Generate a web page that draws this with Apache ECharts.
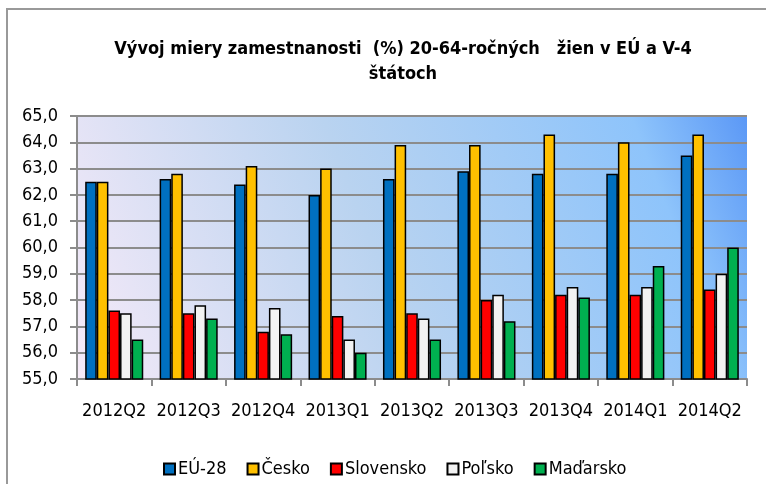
<!DOCTYPE html>
<html>
<head>
<meta charset="utf-8">
<script src="https://cdn.jsdelivr.net/npm/echarts@6/dist/echarts.min.js"></script>
<style>
  html, body { margin: 0; padding: 0; background: #fff; }
  #chart { width: 766px; height: 484px; }
</style>
</head>
<body>
<div id="chart"></div>
<script>
// kvartály a hodnoty (%)
const categories = ['2012Q2', '2012Q3', '2012Q4', '2013Q1', '2013Q2', '2013Q3', '2013Q4', '2014Q1', '2014Q2'];
const seriesNames = ['EÚ-28', 'Česko', 'Slovensko', 'Poľsko', 'Maďarsko'];
const eu28 = [62.5, 62.6, 62.4, 62.0, 62.6, 62.9, 62.8, 62.8, 63.5];
const cesko = [62.5, 62.8, 63.1, 63.0, 63.9, 63.9, 64.3, 64.0, 64.3];
const slovensko = [57.6, 57.5, 56.8, 57.4, 57.5, 58.0, 58.2, 58.2, 58.4];
const polsko = [57.5, 57.8, 57.7, 56.5, 57.3, 58.2, 58.5, 58.5, 59.0];
const madarsko = [56.5, 57.3, 56.7, 56.0, 56.5, 57.2, 58.1, 59.3, 60.0];
const colors = ['#0070c0', '#ffc000', '#ff0000', '#f2f2f2', '#00b050'];

const FONT = '"DejaVu Sans Condensed", "Liberation Sans Narrow", "Arial Narrow", sans-serif';

const chart = echarts.init(document.getElementById('chart'));

const allData = [eu28, cesko, slovensko, polsko, madarsko];
const series = allData.map((d, i) => ({
  name: seriesNames[i],
  type: 'bar',
  data: d,
  barGap: '0%',
  barCategoryGap: '22%',
  itemStyle: { color: colors[i], borderColor: '#000', borderWidth: 1.5 }
}));

const option = {
  animation: false,
  backgroundColor: '#fff',
  graphic: [{
    type: 'rect',
    shape: { x: 7, y: 9, width: 800, height: 500 },
    style: { fill: 'none', stroke: '#999', lineWidth: 2 },
    silent: true
  }],
  title: {
    text: 'Vývoj miery zamestnanosti  (%) 20-64-ročných   žien v EÚ a V-4\nštátoch',
    left: 398,
    top: 32,
    textAlign: 'center',
    textStyle: { fontFamily: FONT, fontSize: 18, fontWeight: 'bold', color: '#000', lineHeight: 25 }
  },
  legend: {
    data: seriesNames,
    left: 158,
    top: 455,
    icon: 'rect',
    itemWidth: 11,
    itemHeight: 11,
    itemGap: 20,
    textStyle: { fontFamily: FONT, fontSize: 18, color: '#000', padding: [0, 0, 0, -2] }
  },
  grid: {
    left: 77, right: 19, top: 116, bottom: 105,
    show: true,
    borderWidth: 0,
    backgroundColor: new echarts.graphic.LinearGradient(0, 1, 1, 0, [
      { offset: 0, color: '#f6eaf8' },
      { offset: 0.45, color: '#b9d3f0' },
      { offset: 0.85, color: '#8ec4fb' },
      { offset: 1, color: '#5b98f6' }
    ])
  },
  xAxis: {
    type: 'category',
    data: categories,
    axisLine: { lineStyle: { color: '#8c8c8c', width: 2 } },
    axisTick: { show: true, length: 7, lineStyle: { color: '#8c8c8c', width: 2 } },
    axisLabel: { fontFamily: FONT, fontSize: 18, color: '#000', margin: 23, interval: 0 }
  },
  yAxis: {
    type: 'value',
    min: 55,
    max: 65,
    interval: 1,
    axisLine: { show: true, lineStyle: { color: '#8c8c8c', width: 2 } },
    axisTick: { show: true, length: 7, lineStyle: { color: '#8c8c8c', width: 2 } },
    splitLine: { lineStyle: { color: '#8c8c8c', width: 2 } },
    axisLabel: {
      fontFamily: FONT, fontSize: 18, color: '#000', margin: 19,
      formatter: v => v.toFixed(1).replace('.', ',')
    }
  },
  series: series
};

chart.setOption(option);
</script>
</body>
</html>
